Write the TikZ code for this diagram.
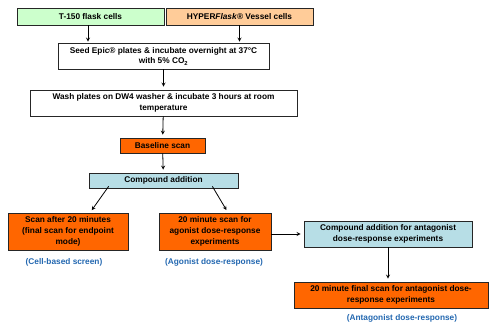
\documentclass[tikz,border=0pt]{standalone}
\usepackage{fontspec}
\setmainfont{Liberation Sans}
\usetikzlibrary{arrows,shapes}
\usetikzlibrary{positioning}
\definecolor{clrBorders}{rgb}{0.15,0.15,0.15}
\definecolor{clrGreen}{HTML}{CCFFCC}
\definecolor{clrPeach}{HTML}{FFCC99}
\definecolor{clrOrange}{HTML}{FF6600}
\definecolor{clrCyan}{HTML}{B7DEE6}
\definecolor{clrLabel}{HTML}{2267B0}
\tikzstyle{box_style0}=[draw=clrBorders, line width=0.7pt, anchor=center, text centered, align=center, inner sep=1pt, font=\bfseries\fontsize{8.3}{10.7}\selectfont]
\tikzstyle{cell_box}=[box_style0, minimum width=147pt, minimum height=17pt]
\tikzstyle{step_box}=[box_style0, fill=white, minimum height=26pt]
\tikzstyle{scan_box}=[box_style0, fill=clrOrange]
\tikzstyle{compound_box}=[box_style0, fill=clrCyan]
\tikzstyle{label_txt}=[text=clrLabel, font=\bfseries\fontsize{8.3}{10}\selectfont]
\tikzstyle{myarrow}=[->, >=stealth, line width=0.8pt, draw=black, shorten >=3pt]

\begin{document}
\begin{tikzpicture}[x=1pt, y=-1pt]
		\useasboundingbox (0,0) rectangle (489,324);

		% starting cells
		\node[cell_box, fill=clrGreen] (T) at (90.5,16.5) {T-150 flask cells} ;
		\node[cell_box, fill=clrPeach] (H) at (239.5,16.5) {HYPER\textit{Flask}® Vessel cells} ;

		\node[step_box, minimum width=211pt] (S) at (163.5,56) {Seed Epic® plates \& incubate overnight at 37°C\\with 5\% CO\textsubscript{2}} ;
		\draw[myarrow, shorten >=1pt] ([xshift=-2.5]T.south) -- ([xshift=-2.5]T.south |- S.north) ;
		\draw[myarrow, shorten >=1pt] (H.south) -- (H.south |- S.north) ;

		\node[step_box, minimum width=267pt] (W) at (163.5,103) {Wash plates on DW4 washer \& incubate 3 hours at room\\temperature} ;
		\draw[myarrow] (S) -- (W) ;

		\node[scan_box, minimum width=85pt, minimum height=15pt] (B) at (162.5,145.5) {Baseline scan} ;
		\draw[myarrow] (W) -- (B) ;

		\node[compound_box, minimum width=149pt, minimum height=15pt] (C) at (163.5,180.5) {Compound addition} ;
		\draw[myarrow] (B) -- (C) ;

		% endpoint / agonist branches
		\node[scan_box, minimum width=120pt, minimum height=37pt] (E) at (68,231.5) {Scan after 20 minutes\\(final scan for endpoint\\mode)} ;
		\draw[myarrow] ([xshift=20, yshift=2]C.south west) -- ([xshift=22]E.north) ;

		\node[scan_box, minimum width=112pt, minimum height=37pt] (A) at (215,231.5) {20 minute scan for\\agonist dose-response\\experiments} ;
		\draw[myarrow] ([xshift=-26, yshift=2]C.south east) -- ([xshift=13]A.north) ;

		\node[label_txt] (Lc) at (64,262) {(Cell-based screen)} ;
		\node[label_txt] (La) at (214,262) {(Agonist dose-response)} ;

		% antagonist branch
		\node[compound_box, minimum width=168pt, minimum height=26pt] (N) at (388,234) {Compound addition for antagonist\\dose-response experiments} ;
		\draw[myarrow] (A.east |- N.west) -- (N.west) ;

		\node[scan_box, minimum width=194pt, minimum height=26pt] (F) at (391,295) {20 minute final scan for antagonist dose-\\response experiments} ;
		\draw[myarrow] (N) -- (N |- F.north) ;

		\node[label_txt] (Ln) at (402,318) {(Antagonist dose-response)} ;
	\end{tikzpicture}
\end{document}
